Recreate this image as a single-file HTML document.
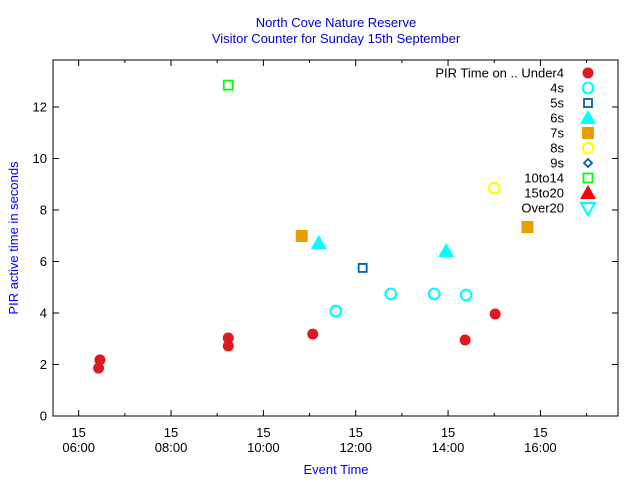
<!DOCTYPE html>
<html><head><meta charset="utf-8"><style>
body{margin:0;background:#fff;}
svg{display:block;font-family:"Liberation Sans",sans-serif;}
</style></head><body>
<svg id="chart" width="640" height="480" xmlns="http://www.w3.org/2000/svg">
<text x="336" y="27" text-anchor="middle" font-size="13" fill="#0000cc">North Cove Nature Reserve</text>
<text x="336" y="43" text-anchor="middle" font-size="13" fill="#0000cc">Visitor Counter for Sunday 15th September</text>
<text x="336" y="474" text-anchor="middle" font-size="13" fill="#0000ff">Event Time</text>
<text transform="translate(18,238) rotate(-90)" text-anchor="middle" font-size="13" fill="#0000ff">PIR active time in seconds</text>
<g id="axes"></g>
<g id="marks"></g>
<g id="legend"></g>
</svg>
<script>
const xTicks=[6,8,10,12,14,16];
const xTickLabels=["06:00","08:00","10:00","12:00","14:00","16:00"];
const yTicks=[0,2,4,6,8,10,12];
const seriesNames=["PIR Time on .. Under4","4s","5s","6s","7s","8s","9s","10to14","15to20","Over20"];
const under4X=[6.43,6.46,9.24,9.24,11.07,14.37,15.02];
const under4Y=[1.86,2.18,2.72,3.03,3.18,2.95,3.96];
const s4X=[11.57,12.76,13.70,14.39];
const s4Y=[4.08,4.74,4.74,4.70];
const s5X=[12.15];
const s5Y=[5.75];
const s6X=[11.20,13.96];
const s6Y=[6.72,6.41];
const s7X=[10.83,15.72];
const s7Y=[6.99,7.34];
const s8X=[15.0];
const s8Y=[8.85];
const s10X=[9.24];
const s10Y=[12.85];

const L=53,R=618,T=60,B=416;
const xs=h=>78.7+(h-6)*46.17;
const ys=v=>B-v*25.75;
const NS="http://www.w3.org/2000/svg";
function mk(tag,attrs,parent){const e=document.createElementNS(NS,tag);for(const k in attrs)e.setAttribute(k,attrs[k]);parent.appendChild(e);return e;}
const axes=document.getElementById('axes'),marks=document.getElementById('marks'),legend=document.getElementById('legend');
const frame=mk('rect',{x:L,y:T,width:R-L,height:B-T,fill:'none',stroke:'#000','stroke-width':1},axes);


yTicks.forEach(v=>{
 const y=ys(v);
 const t=mk('path',{d:`M${L} ${y}h6M${R} ${y}h-6`,stroke:'#000'},axes);
 
 
 const lb=mk('text',{x:L-6,y:y+4.5,'text-anchor':'end','font-size':13},axes);
 lb.textContent=v;
 
 
});
xTicks.forEach((h,i)=>{
 const x=xs(h);
 const t=mk('path',{d:`M${x} ${B}v-6M${x} ${T}v6M${xs(h+1)} ${B}v-3M${xs(h+1)} ${T}v3`,stroke:'#000'},axes);
 
 
 const a=mk('text',{x:x,y:437,'text-anchor':'middle','font-size':13},axes);
 a.textContent="15";
 
 
 const b=mk('text',{x:x,y:452,'text-anchor':'middle','font-size':13},axes);
 b.textContent=xTickLabels[i];
 
 
});
function sym(type,x,y,parent){
 let e;
 switch(type){
 case 0:e=mk('circle',{cx:x,cy:y,r:5.5,fill:'#dd1a22'},parent);break;
 case 1:e=mk('circle',{cx:x,cy:y,r:5.3,fill:'none',stroke:'#00ffff','stroke-width':2.2},parent);break;
 case 2:e=mk('rect',{x:x-4,y:y-4,width:8,height:8,fill:'none',stroke:'#0060ad','stroke-width':1.8},parent);break;
 case 3:e=mk('path',{d:`M${x} ${y-8}L${x+8} ${y+6}H${x-8}Z`,fill:'#00ffff'},parent);break;
 case 4:e=mk('rect',{x:x-6,y:y-6,width:12,height:12,fill:'#e69f00'},parent);break;
 case 5:e=mk('circle',{cx:x,cy:y,r:5.3,fill:'none',stroke:'#ffff00','stroke-width':2.2},parent);break;
 case 6:e=mk('path',{d:`M${x} ${y-4}L${x+4} ${y}L${x} ${y+4}L${x-4} ${y}Z`,fill:'none',stroke:'#0060ad','stroke-width':1.8},parent);break;
 case 7:e=mk('rect',{x:x-4.5,y:y-4.5,width:9,height:9,fill:'none',stroke:'#00ff00','stroke-width':1.8},parent);break;
 case 8:e=mk('path',{d:`M${x} ${y-8}L${x+8} ${y+6}H${x-8}Z`,fill:'#ff0000'},parent);break;
 case 9:e=mk('path',{d:`M${x-7} ${y-5}H${x+7}L${x} ${y+7}Z`,fill:'none',stroke:'#00ffff','stroke-width':2.2},parent);break;
 }
 return e;
}
const data=[[under4X,under4Y,0],[s4X,s4Y,1],[s5X,s5Y,2],[s6X,s6Y,3],[s7X,s7Y,4],[s8X,s8Y,5],[s10X,s10Y,7]];
data.forEach(([X,Y,t])=>{
 X.forEach((h,i)=>{
  const e=sym(t,xs(h),ys(Y[i]),marks);
  
  
 });
});
seriesNames.forEach((n,i)=>{
 const y=73+i*15;
 const tx=mk('text',{x:564,y:y+4.5,'text-anchor':'end','font-size':13},legend);
 tx.textContent=n;
 
 
 const s=sym(i,588,y,legend);
 
 
});
</script>
</body></html>
